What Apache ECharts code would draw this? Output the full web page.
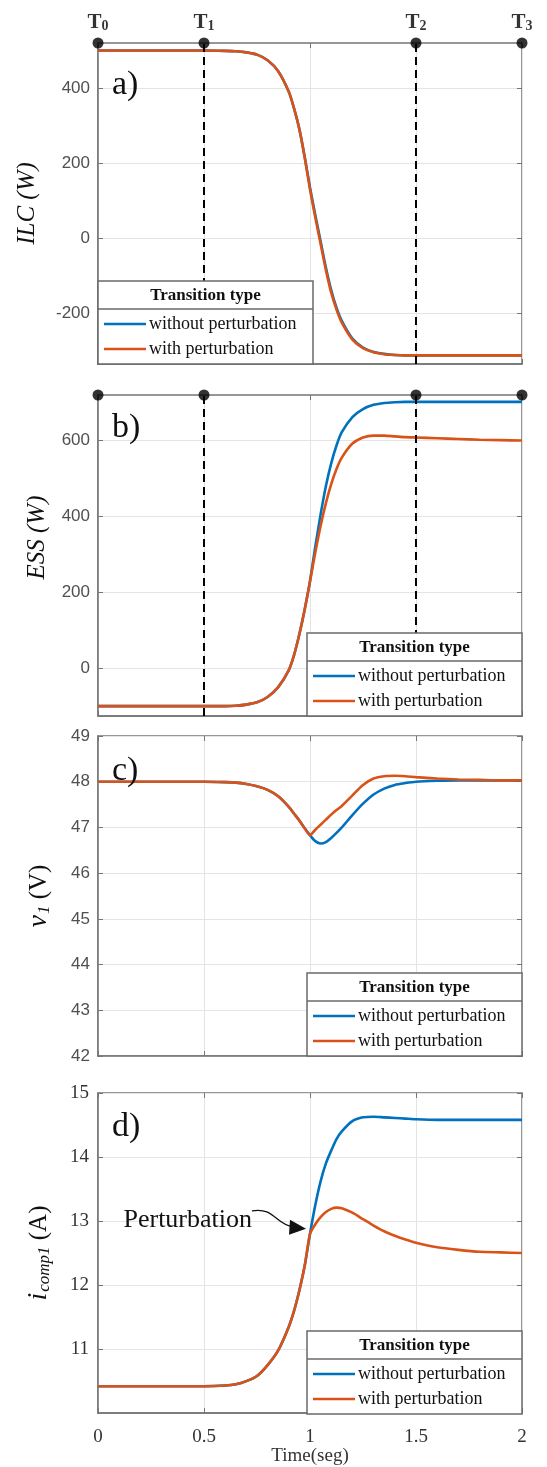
<!DOCTYPE html>
<html>
<head>
<meta charset="utf-8">
<script src="https://cdn.jsdelivr.net/npm/echarts@6/dist/echarts.min.js"></script>
<style>
  html, body { margin: 0; padding: 0; background: #fff; }
  #chart { width: 547px; height: 1467px; }
</style>
</head>
<body>
<div id="chart"></div>
<script>
// sample times (s), shared by the four panels
const time = [0, 0.5, 0.6, 0.65, 0.7, 0.75, 0.8, 0.85, 0.9, 0.925, 0.95, 0.975, 1.0, 1.025, 1.05, 1.075,
    1.1, 1.125, 1.15, 1.2, 1.25, 1.3, 1.35, 1.4, 1.45, 1.5, 1.6, 1.7, 1.8, 1.9, 2.0];

// a) ILC (W)
const ilcWithout = [500, 500, 499, 498, 495, 489, 474, 445, 390, 345, 290, 217, 135, 62, -8, -78,
    -138, -185, -220, -267, -291, -303, -308, -311, -312, -312, -312, -312, -312, -312, -312];
const ilcWith = [500, 500, 499, 498, 495, 489, 474, 445, 390, 345, 290, 215, 130, 55, -15, -85,
    -145, -190, -225, -270, -293, -304, -309, -311, -312, -312, -312, -312, -312, -312, -312];

// b) ESS (W)
const essWithout = [-100, -100, -100, -99, -96, -90, -76, -50, -5, 35, 90, 155, 230, 320, 405, 480,
    540, 587, 622, 662, 683, 694, 699, 701, 702, 702, 702, 702, 702, 702, 702];
const essWith = [-100, -100, -100, -99, -96, -90, -76, -50, -5, 35, 90, 155, 228, 305, 375, 435,
    485, 525, 555, 592, 608, 613, 613, 611, 609, 608, 606, 604, 602, 601, 600];

// c) v1 (V)
const v1Without = [48, 48, 47.99, 47.98, 47.95, 47.9, 47.82, 47.68, 47.45, 47.3, 47.15, 46.98, 46.83, 46.7, 46.65, 46.68,
    46.77, 46.88, 47.0, 47.27, 47.52, 47.72, 47.85, 47.93, 47.97, 48.0, 48.02, 48.03, 48.03, 48.03, 48.03];
const v1With = [48, 48, 47.99, 47.98, 47.95, 47.9, 47.82, 47.68, 47.45, 47.3, 47.15, 46.98, 46.83, 46.95, 47.06, 47.17,
    47.28, 47.38, 47.47, 47.7, 47.93, 48.07, 48.12, 48.13, 48.12, 48.1, 48.07, 48.05, 48.04, 48.03, 48.03];

// d) i_comp1 (A)
const icompWithout = [10.42, 10.42, 10.43, 10.45, 10.5, 10.58, 10.75, 10.98, 11.35, 11.6, 11.92, 12.3, 12.8, 13.25, 13.62, 13.9,
    14.1, 14.28, 14.4, 14.56, 14.62, 14.63, 14.62, 14.61, 14.6, 14.59, 14.58, 14.58, 14.58, 14.58, 14.58];
const icompWith = [10.42, 10.42, 10.43, 10.45, 10.5, 10.58, 10.75, 10.98, 11.35, 11.6, 11.92, 12.3, 12.8, 12.95, 13.06, 13.14,
    13.19, 13.21, 13.2, 13.13, 13.03, 12.93, 12.84, 12.77, 12.71, 12.66, 12.59, 12.55, 12.52, 12.51, 12.5];

// tick labels
const ilcTicks = [-200, 0, 200, 400];
const essTicks = [0, 200, 400, 600];
const icompTicks = [11, 12, 13, 14, 15];

// transition instants marked on top of a) and b)
const markerTimes = [0, 0.5, 1.5, 2];
const markerSubs = ['0', '1', '2', '3'];
const dashedTimes = [0.5, 1.5];

const seriesNames = ['without perturbation', 'with perturbation'];
const panelLetters = ['a)', 'b)', 'c)', 'd)'];

const GRAY = '#767676';
const GRID = '#e4e4e4';
const BLUE = '#0072BD';
const ORANGE = '#D95319';
const SERIF = 'Liberation Serif';
const SANS = 'Liberation Sans';

const panels = [
    {top: 43, height: 321, min: -335, max: 520, ticks: ilcTicks, data: [ilcWithout, ilcWith],
        name: 'ILC (W)', nameGap: 58, legendLeft: true, markers: true, letterY: 85},
    {top: 395, height: 321, min: -126, max: 720, ticks: essTicks, data: [essWithout, essWith],
        name: 'ESS (W)', nameGap: 48, namePad: [0, 0, 0, 36], markers: true, letterY: 428},
    {top: 736, height: 320, min: 42, max: 49, interval: 1, data: [v1Without, v1With],
        name: '{v|v}{s|1} (V)', nameGap: 45, letterY: 771},
    {top: 1093, height: 321, min: 10, max: 15, ticks: icompTicks, data: [icompWithout, icompWith],
        name: '{v|i}{s|comp1} (A)', nameGap: 45, serifTicks: true, letterY: 1127}
];

const chart = echarts.init(document.getElementById('chart'));

const grids = panels.map(p => ({
    left: 98, right: 25, top: p.top, height: p.height,
    show: true, borderColor: GRAY, borderWidth: 1.5, backgroundColor: '#fff'
}));

const xAxes = panels.map((p, i) => ({
    type: 'value', gridIndex: i, min: 0, max: 2, interval: 0.5,
    axisLine: {onZero: false, lineStyle: {color: GRAY, width: 1.5}},
    axisTick: {inside: true, length: 5, lineStyle: {color: GRAY}},
    axisLabel: {show: i === 3, color: '#333', fontFamily: SERIF, fontSize: 19, margin: 14},
    splitLine: {show: true, lineStyle: {color: GRID, width: 1}},
    name: i === 3 ? 'Time(seg)' : '', nameLocation: 'middle', nameGap: 33,
    nameTextStyle: {fontFamily: SERIF, fontSize: 19, color: '#333'}
}));
// matlab-style box: ticks on top as well
panels.forEach((p, i) => xAxes.push({
    type: 'value', gridIndex: i, position: 'top', min: 0, max: 2, interval: 0.5,
    axisLine: {show: false, onZero: false},
    axisTick: {inside: true, length: 5, lineStyle: {color: GRAY}},
    axisLabel: {show: false}, splitLine: {show: false}
}));

const yAxes = panels.map((p, i) => {
    const ax = {
        type: 'value', gridIndex: i, min: p.min, max: p.max,
        axisLine: {show: true, onZero: false, lineStyle: {color: GRAY, width: 1.5}},
        axisTick: {show: true, inside: true, length: 5, lineStyle: {color: GRAY}},
        axisLabel: p.serifTicks
            ? {color: '#333', fontFamily: SERIF, fontSize: 19, margin: 9}
            : {color: '#505050', fontFamily: SANS, fontSize: 17, margin: 8},
        splitLine: {show: true, lineStyle: {color: GRID, width: 1}},
        name: p.name, nameLocation: 'middle', nameRotate: 90, nameGap: p.nameGap,
        nameTextStyle: {
            fontFamily: SERIF, fontSize: 25, color: '#111',
            fontStyle: i < 2 ? 'italic' : 'normal',
            padding: p.namePad || 0,
            rich: {
                v: {fontFamily: SERIF, fontStyle: 'italic', fontSize: 28, color: '#111', verticalAlign: 'bottom'},
                s: {fontFamily: SERIF, fontStyle: 'italic', fontSize: 17, color: '#111', verticalAlign: 'bottom', padding: [0, 0, 0, 1]}
            }
        }
    };
    if (p.interval) ax.interval = p.interval;
    if (p.ticks) {
        ax.axisLabel.customValues = p.ticks;
        ax.axisTick.customValues = p.ticks;
    }
    return ax;
});
// and ticks on the right side
panels.forEach((p, i) => {
    const ax = {
        type: 'value', gridIndex: i, position: 'right', min: p.min, max: p.max,
        axisLine: {show: false, onZero: false},
        axisTick: {show: true, inside: true, length: 5, lineStyle: {color: GRAY}},
        axisLabel: {show: false}, splitLine: {show: false}
    };
    if (p.interval) ax.interval = p.interval;
    if (p.ticks) ax.axisTick.customValues = p.ticks;
    yAxes.push(ax);
});

const series = [];
panels.forEach((p, i) => {
    [BLUE, ORANGE].forEach((color, k) => {
        series.push({
            name: seriesNames[k], type: 'line', xAxisIndex: i, yAxisIndex: i,
            data: time.map((t, j) => [t, p.data[k][j]]),
            symbol: 'none', z: 2 + k,
            smooth: 0.25,
            lineStyle: {color: color, width: 2.6},
            itemStyle: {color: color}
        });
    });
    if (p.markers) {
        series.push({
            name: 'transitions', type: 'scatter', xAxisIndex: i, yAxisIndex: i,
            data: markerTimes.map(t => [t, p.max]),
            symbolSize: 11, clip: false, z: 6,
            itemStyle: {color: '#000'},
            label: {
                show: i === 0, position: 'top', distance: 4,
                formatter: prm => '{t|T}{s|' + markerSubs[prm.dataIndex] + '}',
                rich: {
                    t: {fontFamily: SERIF, fontWeight: 'bold', fontSize: 21, color: '#000', verticalAlign: 'bottom'},
                    s: {fontFamily: SERIF, fontWeight: 'bold', fontSize: 14, color: '#000', verticalAlign: 'bottom'}
                }
            },
            markLine: {
                silent: true, symbol: 'none', animation: false,
                label: {show: false},
                lineStyle: {color: '#000', type: [8, 5], width: 2},
                data: dashedTimes.map(t => ({xAxis: t}))
            }
        });
    }
});

chart.setOption({
    animation: false,
    backgroundColor: '#fff',
    grid: grids,
    xAxis: xAxes,
    yAxis: yAxes,
    series: series
});

// boxed legend "Transition type", drawn in the corner of each panel
function legendBox(x, y) {
    const w = 215, h = 83, z = 60;
    const kids = [
        {type: 'rect', z: z, shape: {x: 0, y: 0, width: w, height: h},
            style: {fill: '#fff', stroke: '#6a6a6a', lineWidth: 1.5}},
        {type: 'line', z: z + 1, shape: {x1: 0, y1: 28, x2: w, y2: 28},
            style: {stroke: '#6a6a6a', lineWidth: 1.5}},
        {type: 'text', z: z + 1, x: w / 2, y: 15,
            style: {text: 'Transition type', font: 'bold 17px "Liberation Serif"', fill: '#111',
                align: 'center', verticalAlign: 'middle'}}
    ];
    [BLUE, ORANGE].forEach((c, k) => {
        const yy = 43 + k * 25;
        kids.push({type: 'line', z: z + 1, shape: {x1: 6, y1: yy, x2: 48, y2: yy},
            style: {stroke: c, lineWidth: 2.6}});
        kids.push({type: 'text', z: z + 1, x: 51, y: yy,
            style: {text: seriesNames[k], font: '18px "Liberation Serif"', fill: '#111',
                align: 'left', verticalAlign: 'middle'}});
    });
    return {type: 'group', x: x, y: y, children: kids};
}

const graphic = [];
panels.forEach((p, i) => {
    const bottom = p.top + p.height;
    const left = p.legendLeft ? 98 : 547 - 25 - 215;
    graphic.push(legendBox(left, bottom - 83));
    graphic.push({type: 'text', x: 112, y: p.letterY, z: 60,
        style: {text: panelLetters[i], font: '34px "Liberation Serif"', fill: '#111', verticalAlign: 'middle'}});
});

// "Perturbation" arrow pointing at the kink of the with-perturbation current
const kink = chart.convertToPixel({gridIndex: 3}, [time[12], icompWith[12]]);
const tip = [kink[0] - 4, kink[1] - 5];
graphic.push({type: 'text', x: kink[0] - 58, y: kink[1] - 14, z: 60,
    style: {text: 'Perturbation', font: '26px "Liberation Serif"', fill: '#111', align: 'right', verticalAlign: 'middle'}});
graphic.push({type: 'bezierCurve', z: 60,
    shape: {x1: kink[0] - 58, y1: kink[1] - 23, cpx1: kink[0] - 36, cpy1: kink[1] - 27,
        cpx2: kink[0] - 34, cpy2: kink[1] - 9, x2: tip[0] - 13, y2: tip[1] - 2},
    style: {stroke: '#111', lineWidth: 1.3, fill: null}});
graphic.push({type: 'polygon', z: 60,
    shape: {points: [tip, [tip[0] - 16, tip[1] - 9], [tip[0] - 17, tip[1] + 6]]},
    style: {fill: '#111'}});

chart.setOption({graphic: graphic});
</script>
</body>
</html>
